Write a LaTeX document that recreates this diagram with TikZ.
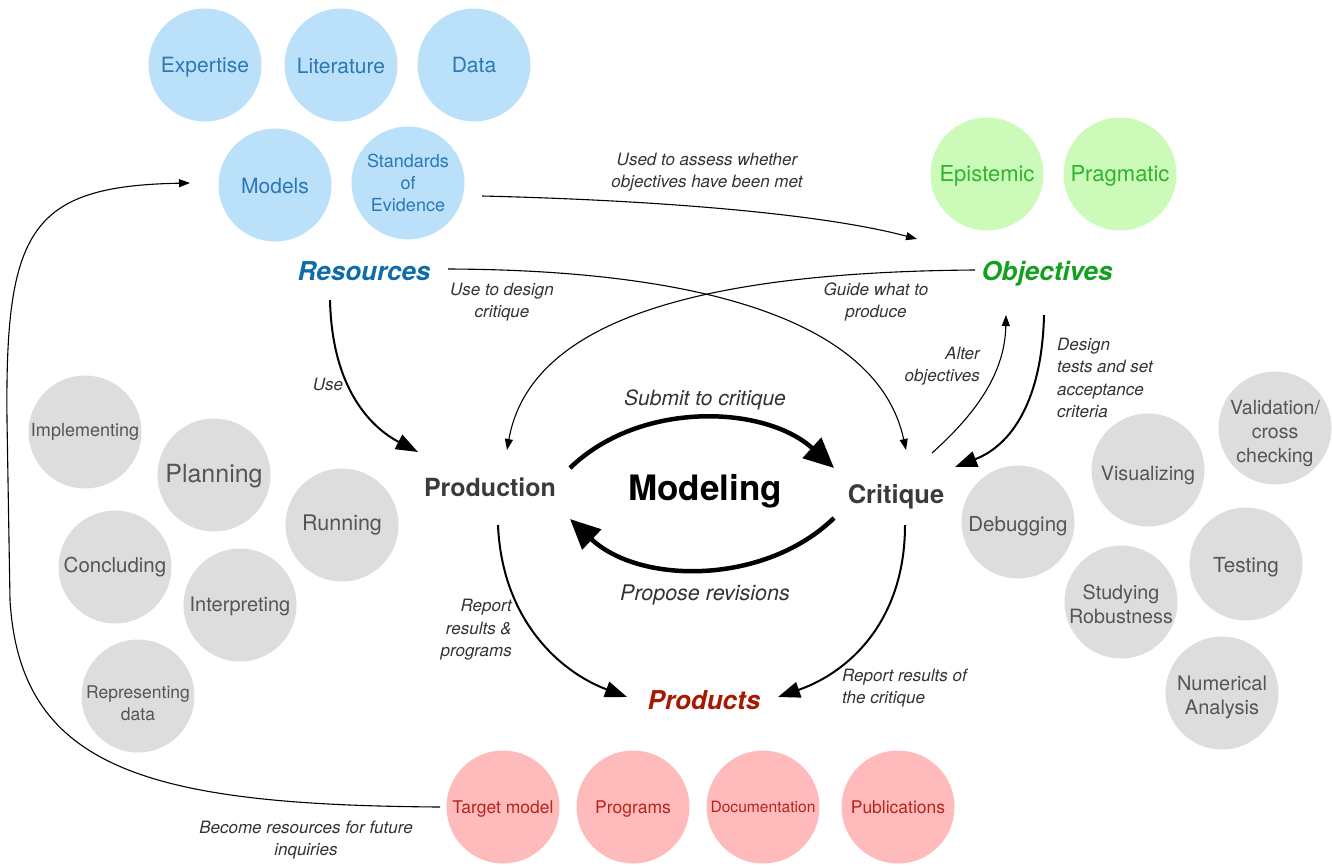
\documentclass[tikz,border=0pt]{standalone}
\usepackage{fontspec}
\setmainfont{TeX Gyre Heros}
\usetikzlibrary{arrows.meta,calc}
\definecolor{bfill}{HTML}{BBE1FA}
\definecolor{btext}{HTML}{2A78B5}
\definecolor{bhead}{HTML}{0F6BAA}
\definecolor{gfill}{HTML}{CCFBB9}
\definecolor{gtext}{HTML}{2DB52D}
\definecolor{ghead}{HTML}{12A01E}
\definecolor{rfill}{HTML}{FFBBBB}
\definecolor{rtext}{HTML}{B8231D}
\definecolor{rhead}{HTML}{A81800}
\definecolor{kfill}{HTML}{DDDDDD}
\definecolor{ktext}{HTML}{555555}
\definecolor{labtext}{HTML}{333333}
\definecolor{phtext}{HTML}{3A3A3A}
\newcommand\myfs[2]{\fontsize{#1}{#2}\selectfont}
\begin{document}
\begin{tikzpicture}[x=1pt,y=-1pt,
  bub/.style={circle, minimum size=113pt, inner sep=0pt},
  btx/.style={inner sep=0pt, align=center, text=btext, font=\myfs{21}{22}},
  gtx/.style={inner sep=0pt, align=center, text=gtext, font=\myfs{22}{24}},
  rtx/.style={inner sep=0pt, align=center, text=rtext, font=\myfs{17.5}{21}},
  ktx/.style={inner sep=0pt, align=center, text=ktext, font=\myfs{20}{24}},
  bbub/.style={bub, fill=bfill},
  gbub/.style={bub, fill=gfill},
  rbub/.style={bub, fill=rfill},
  kbub/.style={bub, fill=kfill},
  head/.style={inner sep=0pt, font=\myfs{26}{30}\bfseries\itshape},
  phase/.style={inner sep=0pt, text=phtext, font=\myfs{25}{30}\bfseries},
  lab/.style={inner sep=0pt, text=labtext, font=\myfs{17}{22.5}\itshape},
  conthin/.style={line width=1.1pt, -{Triangle[length=11pt,width=8pt]}},
  conmid/.style={line width=2pt, -{Triangle[length=22pt,width=16pt]}},
  conthick/.style={line width=4.5pt, -{Triangle[length=30pt,width=27pt]}}
]
\useasboundingbox (0,0) rectangle (1332,865);
% resources
\node[bbub, label={[btx, yshift=-2pt]center:Expertise}] (expertise) at (205,65) {};
\node[bbub, label={[btx, yshift=-1pt]center:Literature}] (literature) at (341,65) {};
\node[bbub, label={[btx]center:Data}] (data) at (474,65) {};
\node[bbub, label={[btx, yshift=-1pt]center:Models}] (models) at (275,185) {};
\node[bbub, label={[btx, font=\myfs{18}{22}]center:{Standards\\of\\Evidence}}] (std) at (408,183) {};
% objectives
\node[gbub, label={[gtx, yshift=-2pt]center:Epistemic}] (epist) at (987,174) {};
\node[gbub, label={[gtx, yshift=-2pt]center:Pragmatic}] (prag) at (1120,174) {};
% products
\node[rbub, label={[rtx, yshift=-2pt]center:Target model}] (target) at (503,807) {};
\node[rbub, label={[rtx, yshift=-2pt]center:Programs}] (programs) at (633,807) {};
\node[rbub, label={[rtx, font=\myfs{15.6}{20}]center:Documentation}] (docu) at (763,807) {};
\node[rbub, label={[rtx]center:Publications}] (publ) at (898,807) {};
% production activities
\node[kbub, label={[ktx, font=\myfs{18}{22}]center:Implementing}] (impl) at (85,432) {};
\node[kbub, label={[ktx, yshift=-1pt, font=\myfs{25}{28}]center:Planning}] (plan) at (214,475) {};
\node[kbub, label={[ktx, font=\myfs{21.5}{24}]center:Running}] (run) at (342,525) {};
\node[kbub, label={[ktx, font=\myfs{20.5}{24}]center:Concluding}] (concl) at (115,567) {};
\node[kbub, label={[ktx, yshift=-1pt]center:Interpreting}] (interp) at (240,605) {};
\node[kbub, label={[ktx, yshift=-7pt, font=\myfs{17.5}{22}]center:{Representing\\data}}] (repr) at (138,696) {};
% critique activities
\node[kbub, label={[ktx, yshift=-4pt, font=\myfs{20.5}{24}]center:Debugging}] (debug) at (1018,522) {};
\node[kbub, label={[ktx, yshift=-5pt, font=\myfs{19.7}{24}]center:Visualizing}] (visual) at (1148,470) {};
\node[kbub, label={[ktx, yshift=-6pt, font=\myfs{19.5}{24}]center:{Validation/\\cross\\checking}}] (valid) at (1275,428) {};
\node[kbub, label={[ktx, yshift=-3pt, font=\myfs{20.7}{24}]center:Testing}] (testing) at (1246,564) {};
\node[kbub, label={[ktx, yshift=-2pt, font=\myfs{19.7}{24}]center:{Studying\\Robustness}}] (robust) at (1121,602) {};
\node[kbub, label={[ktx, yshift=-4pt]center:{Numerical\\Analysis}}] (numer) at (1222,693) {};
% headings
\node[head, text=bhead] (res) at (364,271) {Resources};
\node[head, text=ghead] (obj) at (1047,274) {Objectives};
\node[head, text=rhead] (products) at (704,700) {Products};
\node[phase] (prod) at (490,487) {Production};
\node[phase, font=\myfs{25.5}{30}\bfseries] (crit) at (896,497) {Critique};
\node[inner sep=0pt, font=\myfs{35}{40}\bfseries] (modeling) at (705,491) {Modeling};
% labels
\node[lab, align=center] (l1) at (707,172) {Used to assess whether\\objectives have been met};
\node[lab, align=center] (l2) at (502,302) {Use to design\\critique};
\node[lab, align=center] (l3) at (876,302) {Guide what to\\produce};
\node[lab] (l4) at (328,384) {Use};
\node[lab, align=right, anchor=east] (l5) at (980,366) {Alter\\objectives};
\node[lab, align=left, anchor=west] (l6) at (1057,378) {Design\\tests and set\\acceptance\\criteria};
\node[lab, font=\myfs{21}{24}\itshape] (l7) at (705,400) {Submit to critique};
\node[lab, font=\myfs{21.5}{24}\itshape] (l8) at (705,595) {Propose revisions};
\node[lab, align=right, anchor=east] (l9) at (512,630) {Report\\results \&\\programs};
\node[lab, align=left, anchor=west] (l10) at (842,688) {Report results of\\the critique};
\node[lab, align=center] (l11) at (306,840) {Become resources for future\\inquiries};
% connectors
\draw[conthin] ($(std)+(74,13)$) .. controls (650,200) and (820,213) .. ($(obj)+(-130,-35)$);
\draw[conthin] ($(res)+(84,-2)$) .. controls (700,270) and (878,320) .. ($(crit)+(10,-47)$);
\draw[conthin] ($(obj)+(-72,-4)$) .. controls (700,272) and (530,320) .. ($(prod)+(17,-37)$);
\draw[conmid] ($(res)+(-34,29)$) .. controls (332,390) and (372,428) .. ($(prod)+(-72,-35)$);
\draw[conthin] ($(crit)+(36,-44)$) .. controls (980,410) and (1005,370) .. ($(obj)+(-41,41)$);
\draw[conmid] ($(obj)+(-3,41)$) .. controls (1042,400) and (1012,445) .. ($(crit)+(59,-30)$);
\draw[conthick] ($(prod)+(80,-19)$) .. controls (640,400) and (765,405) .. ($(crit)+(-62,-29)$);
\draw[conthick] ($(crit)+(-62,21)$) .. controls (765,585) and (640,585) .. ($(prod)+(80,32)$);
\draw[conmid] ($(prod)+(8,38)$) .. controls (502,620) and (560,672) .. ($(products)+(-77,-3)$);
\draw[conmid] ($(crit)+(9,28)$) .. controls (905,620) and (850,672) .. ($(products)+(74,-3)$);
\draw[conthin] ($(target)+(-63,0)$) .. controls (150,805) and (20,770) .. (10,600)
  -- (7,420) .. controls (5,230) and (30,186) .. ($(models)+(-85,-2)$);
\end{tikzpicture}
\end{document}
